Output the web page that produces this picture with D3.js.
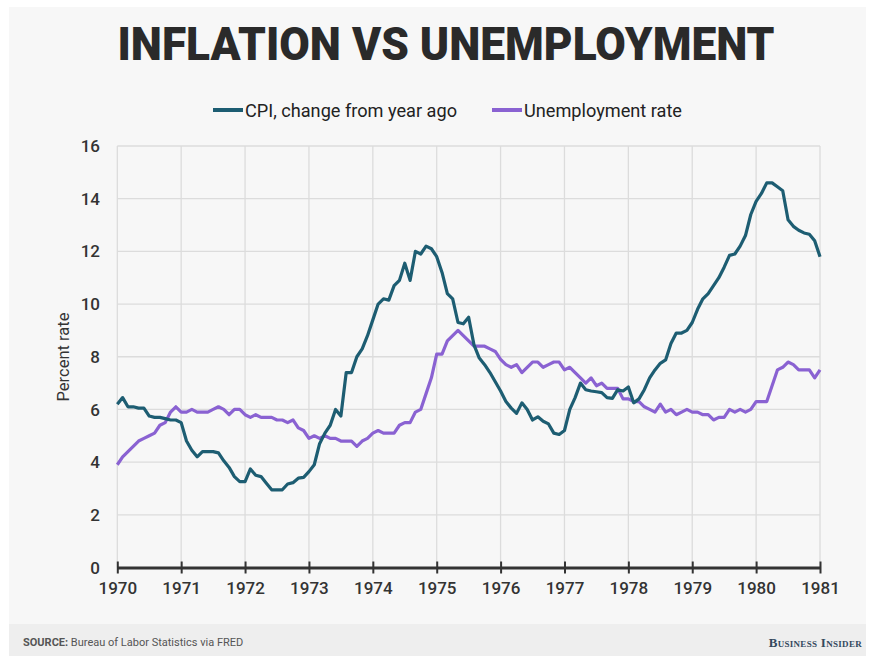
<!DOCTYPE html>
<html><head><meta charset="utf-8">
<script src="https://cdn.jsdelivr.net/npm/d3@7"></script>
<style>html,body{margin:0;padding:0;background:#fff;}</style>
</head><body>
<script>
const startYear = 1970;
const yearTicks = [1970,1971,1972,1973,1974,1975,1976,1977,1978,1979,1980,1981];
const yTicks = [0,2,4,6,8,10,12,14,16];
const seriesNames = ["CPI, change from year ago", "Unemployment rate"];
// monthly, Jan 1970 .. Jan 1981
const cpi = [
 6.2,6.45,6.1,6.1,6.05,6.05,5.75,5.7,5.7,5.65,5.6,5.6,
 5.5,4.8,4.45,4.2,4.4,4.4,4.4,4.35,4.05,3.8,3.45,3.26,
 3.26,3.74,3.5,3.45,3.2,2.95,2.95,2.95,3.17,3.22,3.39,3.42,
 3.64,3.9,4.7,5.1,5.4,6.0,5.75,7.4,7.4,8.0,8.3,8.8,
 9.4,10.0,10.2,10.15,10.7,10.9,11.55,10.9,12.0,11.9,12.2,12.1,
 11.8,11.2,10.4,10.2,9.3,9.25,9.5,8.45,7.95,7.7,7.4,7.05,
 6.7,6.3,6.05,5.85,6.25,6.0,5.6,5.72,5.55,5.45,5.1,5.05,
 5.2,6.0,6.45,7.0,6.75,6.7,6.67,6.64,6.45,6.42,6.75,6.7,
 6.85,6.25,6.4,6.75,7.2,7.5,7.75,7.88,8.5,8.9,8.9,9.0,
 9.3,9.8,10.2,10.4,10.7,11.0,11.4,11.85,11.9,12.2,12.6,13.4,
 13.9,14.2,14.6,14.6,14.45,14.3,13.2,12.95,12.8,12.7,12.65,12.4,
 11.8];
const unemployment = [
 3.9,4.2,4.4,4.6,4.8,4.9,5.0,5.1,5.4,5.5,5.9,6.1,
 5.9,5.9,6.0,5.9,5.9,5.9,6.0,6.1,6.0,5.8,6.0,6.0,
 5.8,5.7,5.8,5.7,5.7,5.7,5.6,5.6,5.5,5.6,5.3,5.2,
 4.9,5.0,4.9,5.0,4.9,4.9,4.8,4.8,4.8,4.6,4.8,4.9,
 5.1,5.2,5.1,5.1,5.1,5.4,5.5,5.5,5.9,6.0,6.6,7.2,
 8.1,8.1,8.6,8.8,9.0,8.8,8.6,8.4,8.4,8.4,8.3,8.2,
 7.9,7.7,7.6,7.7,7.4,7.6,7.8,7.8,7.6,7.7,7.8,7.8,
 7.5,7.6,7.4,7.2,7.0,7.2,6.9,7.0,6.8,6.8,6.8,6.4,
 6.4,6.3,6.3,6.1,6.0,5.9,6.2,5.9,6.0,5.8,5.9,6.0,
 5.9,5.9,5.8,5.8,5.6,5.7,5.7,6.0,5.9,6.0,5.9,6.0,
 6.3,6.3,6.3,6.9,7.5,7.6,7.8,7.7,7.5,7.5,7.5,7.2,
 7.5];

const W = 870, H = 656;
const svg = d3.select("body").append("svg").attr("width", W).attr("height", H)
  .style("display","block");

svg.append("rect").attr("x",9).attr("y",7).attr("width",857).attr("height",H-7).attr("fill","#f7f7f7");
svg.append("rect").attr("x",9).attr("y",624).attr("width",857).attr("height",H-624).attr("fill","#eeeeee");

const x = d3.scaleLinear().domain([1970,1981]).range([117.3,820]);
const y = d3.scaleLinear().domain([0,16]).range([567.5,146]);

// grid
const g = svg.append("g");
g.selectAll("line.h").data(yTicks.filter(d=>d>0)).join("line")
  .attr("x1",x(1970)).attr("x2",x(1981)).attr("y1",d=>y(d)).attr("y2",d=>y(d))
  .attr("stroke","#dcdcdc").attr("stroke-width",1.3);
g.selectAll("line.v").data(yearTicks).join("line")
  .attr("x1",d=>x(d)).attr("x2",d=>x(d)).attr("y1",y(16)).attr("y2",y(0))
  .attr("stroke","#dcdcdc").attr("stroke-width",1.3);

// y tick labels
svg.append("g").selectAll("text").data(yTicks).join("text")
  .attr("x",100).attr("y",d=>y(d)).attr("dy","0.36em").attr("text-anchor","end")
  .attr("font-family","Roboto, sans-serif").attr("font-weight",500).attr("font-size",17)
  .attr("fill","#333").text(d=>d);

// y title
svg.append("text").attr("transform","translate(69,357) rotate(-90)")
  .attr("text-anchor","middle").attr("font-family","Roboto, sans-serif")
  .attr("font-size",16.5).attr("fill","#333").text("Percent rate");

// lines
const toPts = arr => arr.map((v,i)=>({t: startYear + i/12, v}));
const line = d3.line().x(d=>x(d.t)).y(d=>y(d.v));
svg.append("path").datum(toPts(unemployment)).attr("d",line).attr("fill","none")
  .attr("stroke","#8a62d2").attr("stroke-width",3.2).attr("stroke-linejoin","round");
svg.append("path").datum(toPts(cpi)).attr("d",line).attr("fill","none")
  .attr("stroke","#1d5d72").attr("stroke-width",3.2).attr("stroke-linejoin","round");

// x axis
const xa = svg.append("g").attr("transform",`translate(0,${y(0)})`)
  .call(d3.axisBottom(x).tickValues(yearTicks).tickFormat(d3.format("d")).tickSize(0).tickPadding(14));
xa.select(".domain").attr("stroke","#333").attr("stroke-width",3);
xa.selectAll(".tick text").attr("font-family","Roboto, sans-serif").attr("font-weight",500)
  .attr("font-size",17).attr("fill","#333");
xa.selectAll(".tick").append("line").attr("y1",-6).attr("y2",6)
  .attr("stroke","#333").attr("stroke-width",2);

// title
svg.append("text").attr("x",446).attr("y",60).attr("text-anchor","middle")
  .attr("font-family","Roboto, sans-serif").attr("font-weight",900).attr("font-size",46)
  .attr("fill","#2a2a2a").attr("textLength",657).attr("lengthAdjust","spacingAndGlyphs")
  .text("INFLATION VS UNEMPLOYMENT");

// legend
const legend = [
  {name: seriesNames[0], color:"#1d5d72", lx:213, tx:245, tw:212},
  {name: seriesNames[1], color:"#8a62d2", lx:492, tx:524, tw:158}
];
legend.forEach(l=>{
  svg.append("line").attr("x1",l.lx).attr("x2",l.lx+30).attr("y1",110).attr("y2",110)
    .attr("stroke",l.color).attr("stroke-width",4);
  svg.append("text").attr("x",l.tx).attr("y",116.5).attr("font-family","Roboto, sans-serif")
    .attr("font-size",18).attr("fill","#222").attr("textLength",l.tw)
    .attr("lengthAdjust","spacingAndGlyphs").text(l.name);
});

// footer
const src = svg.append("text").attr("x",23).attr("y",646).attr("font-family","Roboto, sans-serif")
  .attr("font-size",11).attr("fill","#555");
src.append("tspan").attr("font-weight",700).text("SOURCE:");
src.append("tspan").text(" Bureau of Labor Statistics via FRED");
svg.append("text").attr("x",862).attr("y",647).attr("text-anchor","end")
  .attr("font-family","'Liberation Serif', serif").attr("font-weight",700).attr("font-size",13)
  .attr("fill","#34495e").style("font-variant","small-caps").attr("letter-spacing",0.3)
  .text("Business Insider");
</script>
</body></html>
